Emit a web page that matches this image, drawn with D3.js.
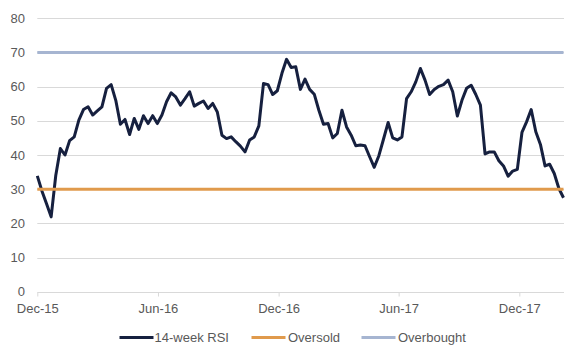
<!DOCTYPE html>
<html>
<head>
<meta charset="utf-8">
<script src="https://cdn.jsdelivr.net/npm/d3@7"></script>
<style>
  html, body { margin: 0; padding: 0; background: #ffffff; }
  svg { display: block; }
  text { font-family: "Liberation Sans", Arial, sans-serif; font-size: 13px; fill: #595959; }
</style>
</head>
<body>
<svg id="chart" width="582" height="360"></svg>
<script>
// ---- data ----
const startDate = "2015-12-04";      // first weekly observation
const rsiValues = [
  33.9, 29.5, 25.7, 21.9, 34.0, 41.9, 40.0, 44.2, 45.3, 50.2,
  53.3, 54.1, 51.7, 52.9, 54.1, 59.5, 60.6, 56.0, 49.0, 50.4,
  46.0, 50.7, 47.5, 51.5, 49.2, 51.5, 49.2, 51.7, 55.6, 58.2,
  57.0, 54.6, 56.5, 58.5, 54.3, 55.1, 55.8, 53.6, 55.1, 52.6,
  45.8, 44.8, 45.3, 43.9, 42.6, 40.9, 44.4, 45.3, 48.5, 60.9,
  60.6, 57.7, 58.8, 63.9, 68.0, 65.6, 65.8, 59.2, 62.2, 59.2,
  57.8, 53.1, 49.0, 49.2, 45.0, 46.3, 53.1, 48.2, 45.8, 42.7,
  42.9, 42.7, 39.5, 36.4, 39.8, 44.6, 49.5, 45.0, 44.4, 45.3,
  56.5, 58.5, 61.4, 65.3, 61.9, 57.7, 59.2, 60.1, 60.6, 61.9,
  58.5, 51.4, 56.0, 59.5, 60.4, 57.7, 54.6, 40.3, 40.9, 40.9,
  38.3, 36.8, 33.8, 35.3, 35.8, 46.6, 49.7, 53.3, 46.8, 43.1,
  36.8, 37.3, 34.6, 30.2, 27.5
];
const oversoldLevel = 30;
const overboughtLevel = 70;
const yTicks = [0, 10, 20, 30, 40, 50, 60, 70, 80];
const xTickDates = ["2015-12-04", "2016-06-04", "2016-12-04", "2017-06-04", "2017-12-04"];
const xTickLabels = ["Dec-15", "Jun-16", "Dec-16", "Jun-17", "Dec-17"];
const seriesNames = ["14-week RSI", "Oversold", "Overbought"];
const seriesColors = ["#16203f", "#e09a4c", "#a6b5d1"];

// ---- derived tables ----
const parse = d3.timeParse("%Y-%m-%d");
const start = parse(startDate);
const dates = rsiValues.map((_, i) => d3.timeWeek.offset(start, i));
const rsi = rsiValues.map((v, i) => ({ date: dates[i], value: v }));
const oversold = dates.map(d => ({ date: d, value: oversoldLevel }));
const overbought = dates.map(d => ({ date: d, value: overboughtLevel }));

// ---- layout ----
const svg = d3.select("#chart");
const plotLeft = 37.3, plotRight = 563.5, plotTop = 18.3, plotBottom = 291.7;

const x = d3.scaleTime().domain([dates[0], dates[dates.length - 1]]).range([plotLeft, plotRight]);
const y = d3.scaleLinear().domain([0, 80]).range([plotBottom, plotTop]);

// gridlines
svg.append("g").selectAll("line").data(yTicks.filter(t => t > 0)).join("line")
  .attr("x1", plotLeft).attr("x2", plotRight + 0.5)
  .attr("y1", d => Math.round(y(d)) + 0.5).attr("y2", d => Math.round(y(d)) + 0.5)
  .attr("stroke", "#d9d9d9").attr("stroke-width", 1);

// y labels
svg.append("g").selectAll("text").data(yTicks).join("text")
  .attr("x", 25).attr("y", d => y(d)).attr("dy", "0.35em")
  .attr("text-anchor", "end").text(d => d);

// x axis
const xAxis = d3.axisBottom(x)
  .tickValues(xTickDates.map(parse))
  .tickFormat((d, i) => xTickLabels[i])
  .tickSizeInner(4).tickSizeOuter(0).tickPadding(7);
const gx = svg.append("g").attr("transform", `translate(0,${Math.round(plotBottom) + 0.5})`).call(xAxis);
gx.select(".domain").attr("stroke", "#d9d9d9").attr("d", `M${plotLeft},0H${plotRight + 0.5}`);
gx.selectAll(".tick line").attr("stroke", "#d9d9d9");
gx.selectAll(".tick text").attr("fill", "#595959")
  .style("font-family", '"Liberation Sans", Arial, sans-serif').style("font-size", "13px");

// lines
const line = d3.line().x(d => x(d.date)).y(d => y(d.value));
[rsi, oversold, overbought].forEach((s, i) => {
  svg.append("path").datum(s)
    .attr("fill", "none")
    .attr("stroke", seriesColors[i])
    .attr("stroke-width", 3)
    .attr("stroke-linejoin", "round")
    .attr("d", line);
});

// legend
const legendItems = [
  { lx: 119.5, tx: 154.5 },
  { lx: 251.5, tx: 288 },
  { lx: 361.5, tx: 398 }
];
const lg = svg.append("g");
seriesNames.forEach((name, i) => {
  const it = legendItems[i];
  lg.append("line").attr("x1", it.lx).attr("x2", it.lx + 34)
    .attr("y1", 337.5).attr("y2", 337.5)
    .attr("stroke", seriesColors[i]).attr("stroke-width", 3);
  lg.append("text").attr("x", it.tx).attr("y", 337.5).attr("dy", "0.35em").text(name);
});
</script>
</body>
</html>
